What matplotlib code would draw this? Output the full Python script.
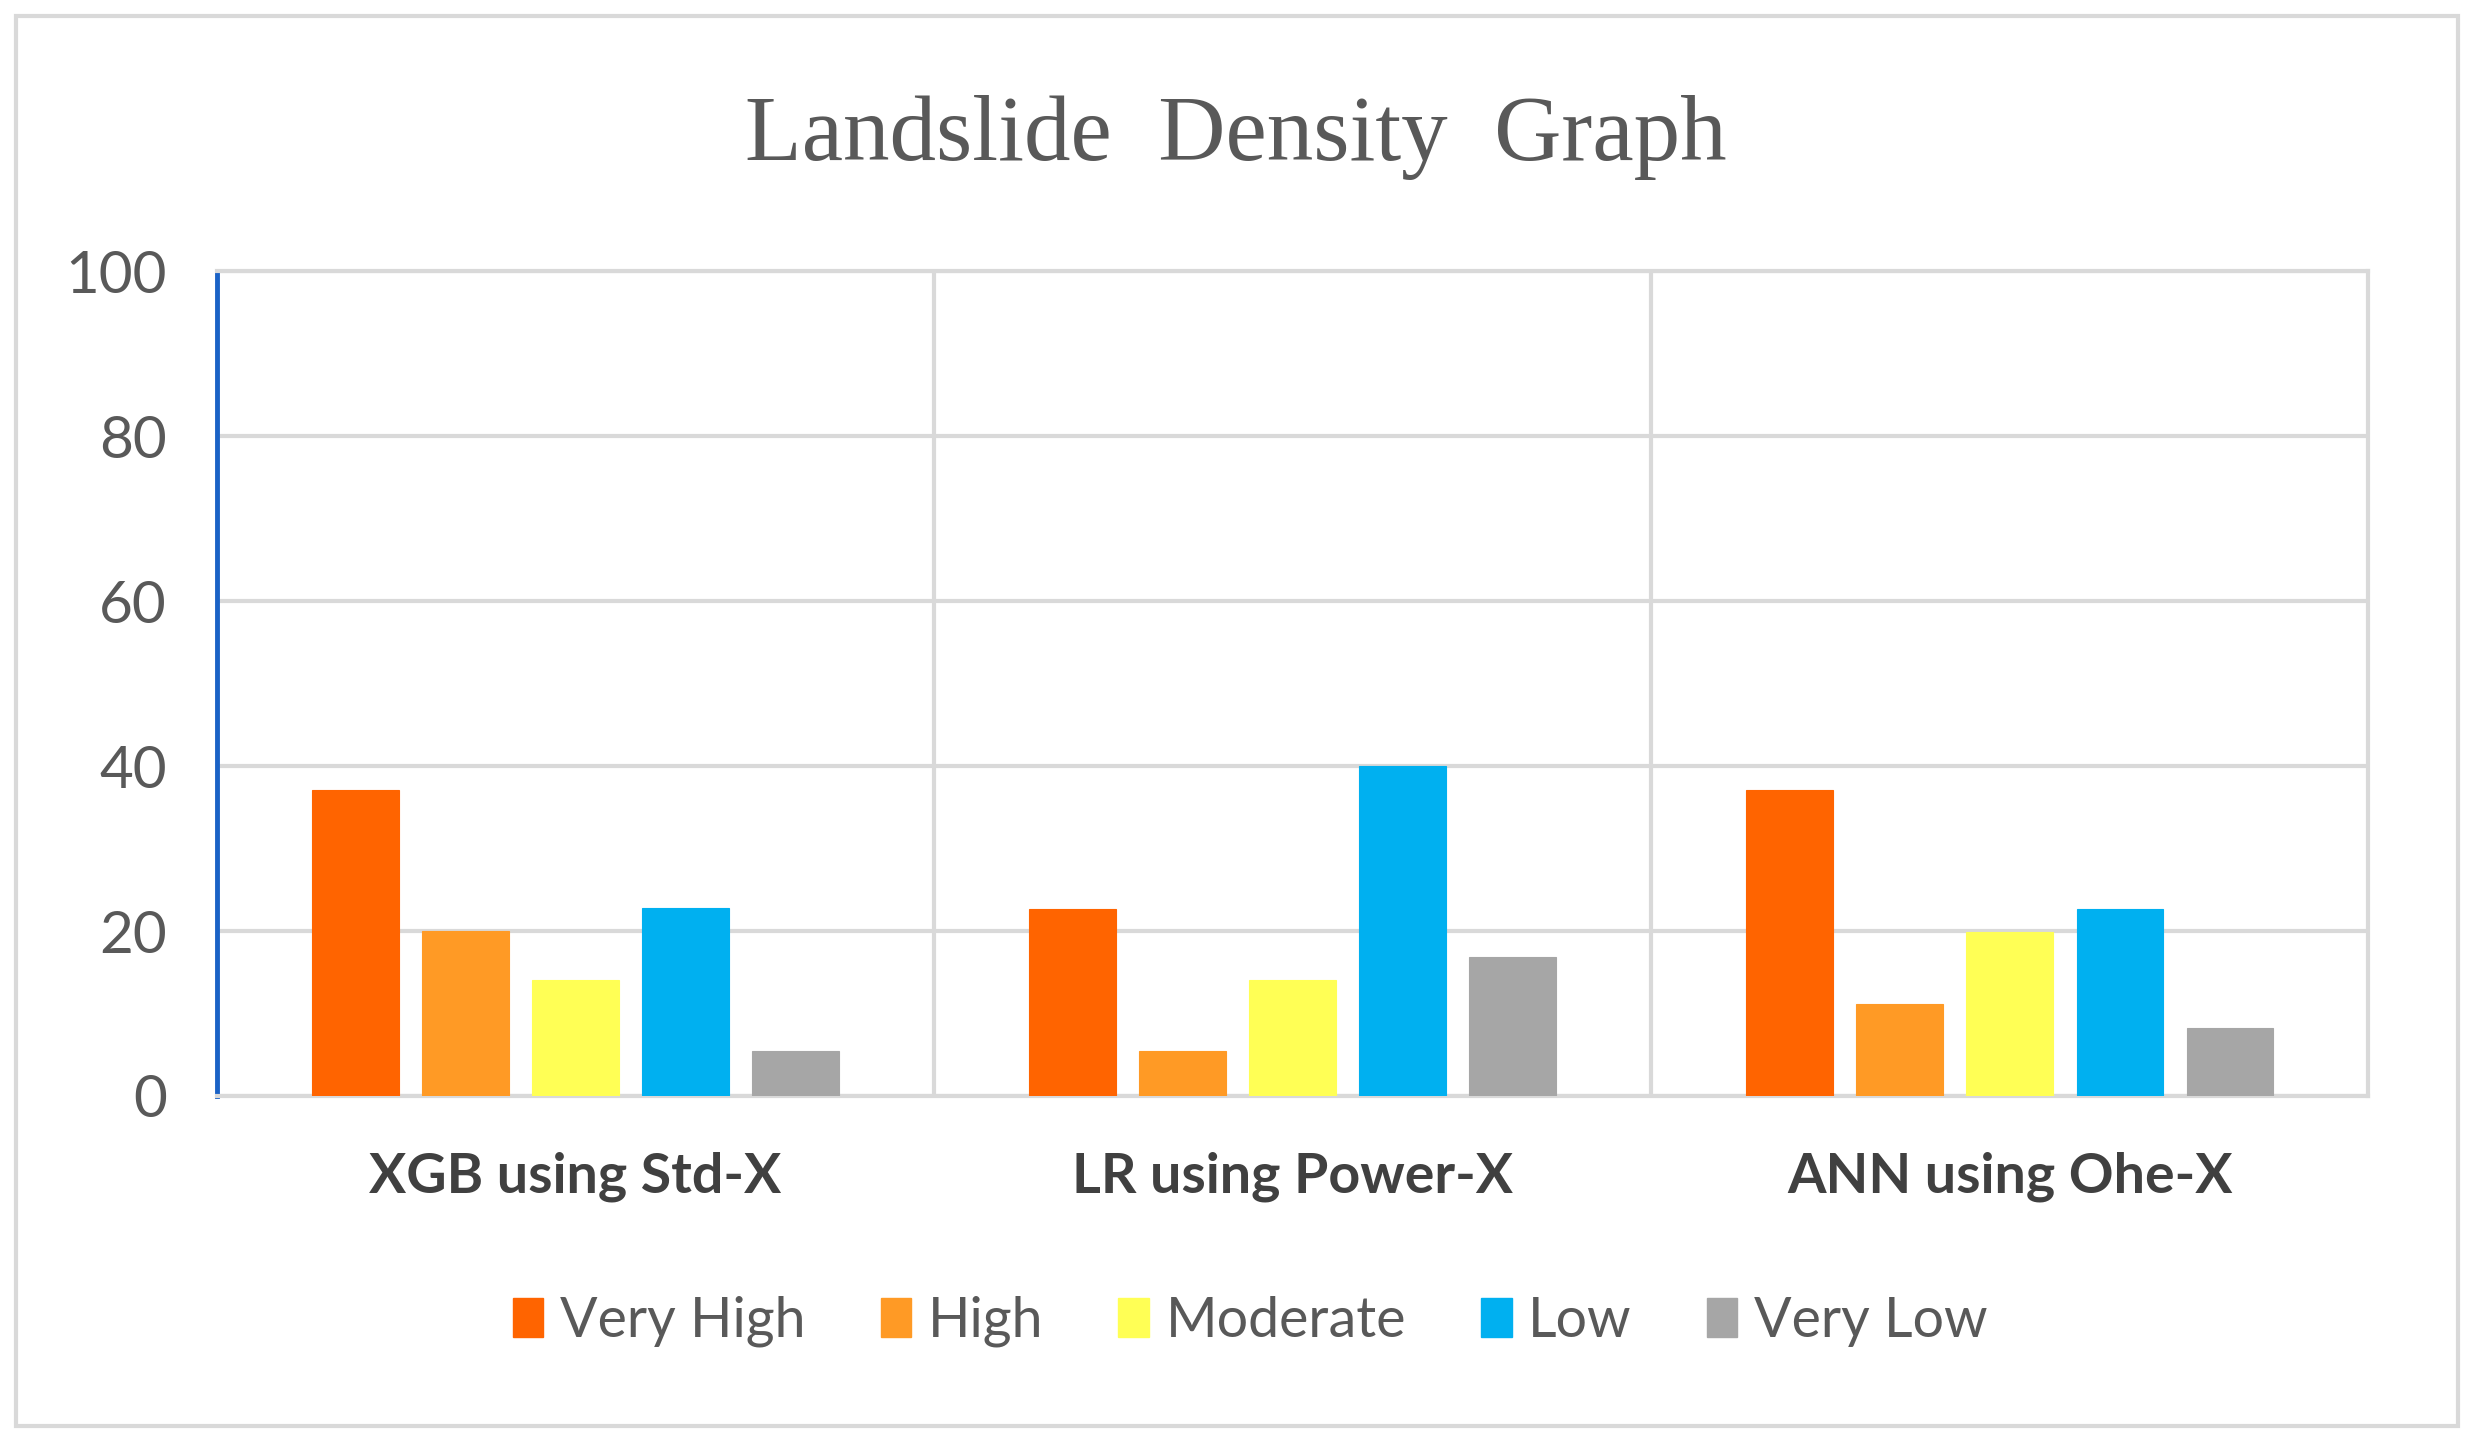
import matplotlib
matplotlib.use("Agg")
import matplotlib.pyplot as plt
import numpy as np
from matplotlib.patches import Rectangle, Patch

categories = ["XGB using Std-X", "LR using Power-X", "ANN using Ohe-X"]
series_names = ["Very High", "High", "Moderate", "Low", "Very Low"]
very_high = [37.1, 22.7, 37.1]
high = [20.0, 5.4, 11.2]
moderate = [14.1, 14.1, 19.9]
low = [22.8, 40.0, 22.7]
very_low = [5.4, 16.9, 8.3]
yticks = [0, 20, 40, 60, 80, 100]

colors = ["#FF6400", "#FF9A25", "#FFFF55", "#00B0F0", "#A6A6A6"]
series = [very_high, high, moderate, low, very_low]

fig = plt.figure(figsize=(24.71, 14.44), dpi=100)
ax = fig.add_axes([0.0878, 0.241, 0.9585 - 0.0878, 0.8123 - 0.241])

x = np.arange(len(categories))
bw = 0.121
step = 0.1535
for i, (vals, c, name) in enumerate(zip(series, colors, series_names)):
    ax.bar(x + (i - 2) * step, vals, width=bw, color=c, label=name, zorder=3,
           edgecolor=c, linewidth=0.8)

ax.set_xlim(-0.5, len(categories) - 0.5)
ax.set_ylim(0, 100)
ax.set_yticks(yticks)
ax.set_yticklabels([str(t) for t in yticks], fontsize=42, color="#595959", family="Lato")
ax.set_xticks(x)
ax.set_xticklabels(categories, fontsize=40, fontweight="bold", color="#404040", family="Lato")
ax.tick_params(axis="both", length=0)
ax.tick_params(axis="y", pad=36)
ax.tick_params(axis="x", pad=40)

grid_c = "#D9D9D9"
ax.grid(axis="y", color=grid_c, linewidth=3, zorder=0)
for b in np.arange(0.5, len(categories) - 0.5, 1.0):
    ax.axvline(b, color=grid_c, linewidth=3, zorder=0)
for s in ["top", "right", "bottom"]:
    ax.spines[s].set_color(grid_c)
    ax.spines[s].set_linewidth(3)
ax.spines["left"].set_color("#1A62C6")
ax.spines["left"].set_linewidth(3.5)

fig.text(0.5, 0.905, "Landslide  Density  Graph", ha="center", va="center",
         fontsize=67, color="#595959", family="Liberation Serif")

handles = [Patch(facecolor=c, edgecolor=c, label=n) for c, n in zip(colors, series_names)]
fig.legend(handles=handles, loc="center", bbox_to_anchor=(0.506, 0.085), ncol=5,
           frameon=False, prop={"family": "Lato", "size": 40},
           handlelength=0.55, handleheight=0.7, handletextpad=0.3,
           columnspacing=1.35, labelcolor="#595959")

fig.patches.append(Rectangle((0.0065, 0.0125), 0.9882, 0.9765, transform=fig.transFigure,
                             fill=False, edgecolor="#D9D9D9", linewidth=3))

fig.savefig("out.png", dpi=100, facecolor="white")
